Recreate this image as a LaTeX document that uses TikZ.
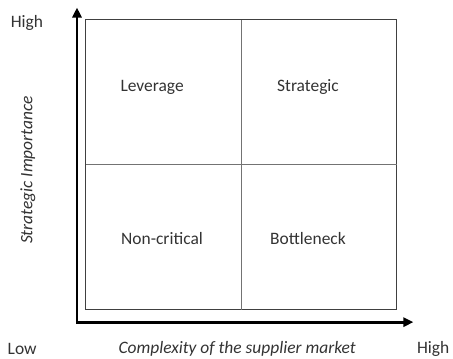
\documentclass[tikz,border=0pt]{standalone}
\usepackage{fontspec}
\setmainfont{Carlito}
\usepackage{xcolor}
\usepackage{tikz}
\usetikzlibrary{arrows.meta, positioning, calc}

\begin{document}
\begin{tikzpicture}[
    axis/.style={line width=1.8pt, -{Triangle[length=6pt,width=5.5pt]}},
    grid/.style={draw=black!55, line width=0.6pt},
    quad/.style={font=\fontsize{10.5}{12}\selectfont, text=black!80},
    axlabel/.style={font=\fontsize{10.5}{12}\selectfont\itshape, text=black!80}
]
    \useasboundingbox (0,0) rectangle (9.59,7.58);

    % axes
    \coordinate (origin) at (1.63,0.76);
    \coordinate (ytip) at (1.63,7.42);
    \coordinate (xtip) at (8.75,0.76);
    \draw[axis] ($(origin)+(0,-0.02)$) -- (ytip);
    \draw[axis] ($(origin)+(-0.02,0)$) -- (xtip);

    % matrix
    \coordinate (bl) at (1.82,1.02);
    \coordinate (tr) at (8.40,7.16);
    \coordinate (mid) at (5.11,4.09);
    \draw[grid, draw=black!75] (bl) rectangle (tr);
    \draw[grid] (mid |- bl) -- (mid |- tr);
    \draw[grid] (mid -| bl) -- (mid -| tr);

    \node[quad] (leverage) at (3.22,5.73) {Leverage};
    \node[quad] (strategic) at (6.52,5.73) {Strategic};
    \node[quad] (noncritical) at (3.43,2.54) {Non-critical};
    \node[quad] (bottleneck) at (6.52,2.54) {Bottleneck};

    % axis labels
    \node[quad] (high y) at (0.57,7.09) {High};
    \node[quad] (low) at (0.47,0.19) {Low};
    \node[quad] (high x) at (9.17,0.19) {High};
    \node[axlabel] (xlabel) at (5.02,0.19) {Complexity of the supplier market};
    \node[axlabel, rotate=90] (ylabel) at (0.59,3.98) {Strategic Importance};
\end{tikzpicture}
\end{document}
